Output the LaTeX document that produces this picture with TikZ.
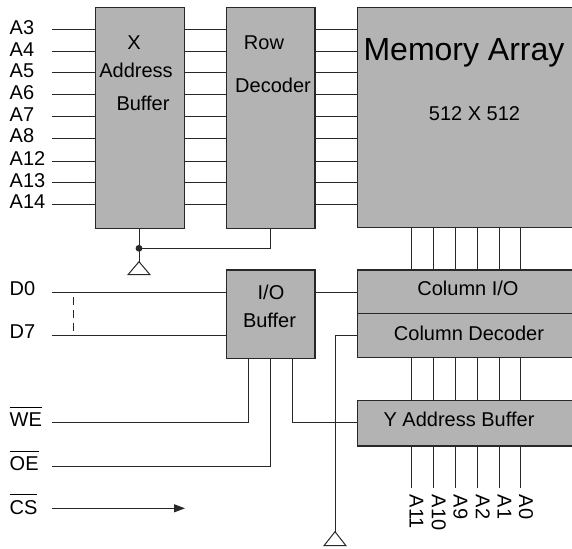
\documentclass[tikz,border=0pt]{standalone}
\usepackage{fontspec}
\setmainfont{Liberation Sans}
\usetikzlibrary{fit,arrows.meta}
\definecolor{boxgray}{RGB}{179,179,179}
\definecolor{wirecol}{RGB}{40,40,40}
\newcommand\ovtext[1]{\setbox0\hbox{#1}\rlap{\rule[19pt]{\wd0}{0.9pt}}\box0}
\begin{document}
\begin{tikzpicture}[x=1pt,y=-1pt,
  box/.style={draw=wirecol,fill=boxgray,line width=1.2pt,inner sep=0pt},
  wire/.style={draw=wirecol,line width=1pt},
  lbl/.style={inner sep=0pt,font=\fontsize{20}{24}\selectfont,text=black},
  biglbl/.style={inner sep=0pt,font=\fontsize{32}{38}\selectfont,text=black},
  gnd/.style={draw=wirecol,line width=1pt,fill=white}]
\useasboundingbox (0,0) rectangle (572,548);
\clip (0,0) rectangle (572,548);
\fill[white] (0,0) rectangle (572,548);
% boxes
\node[box,fit={(95.7,7.3) (184.3,228.3)}] (xab) {};
\node[box,fit={(226.7,7.3) (315,228.3)}] (rowdec) {};
\node[box,fit={(357.7,7.3) (585,227.7)}] (mem) {};
\node[box,fit={(226.7,270) (315,358.3)}] (iobuf) {};
\node[box,fit={(357.7,270) (585,313.3)}] (colio) {};
\node[box,fit={(357.7,313.3) (585,357.7)}] (coldec) {};
\node[box,fit={(357.7,400.7) (585,446)}] (ybuf) {};
% box texts
\node[lbl,anchor=base] (xabt1) at (134,50) {X};
\node[lbl,anchor=base] (xabt2) at (136,77.3) {Address};
\node[lbl,anchor=base] (xabt3) at (143,111) {Buffer};
\node[lbl,anchor=base] (rowt1) at (264,50) {Row};
\node[lbl,anchor=base] (rowt2) at (273,92.3) {Decoder};
\node[biglbl,anchor=base] (memt1) at (464,61) {Memory Array};
\node[lbl,anchor=base] (memt2) at (474.5,120.7) {512 X 512};
\node[lbl,anchor=base] (iot1) at (271,299) {I/O};
\node[lbl,anchor=base] (iot2) at (269.5,327.7) {Buffer};
\node[lbl,anchor=base] (colt1) at (468,295) {Column I/O};
\node[lbl,anchor=base] (colt2) at (469,340) {Column Decoder};
\node[lbl,anchor=base] (ybt) at (459,426) {Y Address Buffer};
% address inputs
\foreach \n/\y in {A3/29.7,A4/51.7,A5/72.7,A6/95,A7/116.7,A8/138.3,A12/161.3,A13/182.7,A14/204.3}{
  \node[lbl,anchor=base west] (l\n) at (9.5,\y+4.5) {\n};
  \coordinate (s\n) at (51.7,\y);
  \draw[wire] (s\n) -- (s\n -| xab.west);
  \draw[wire] (s\n -| xab.east) -- (s\n -| rowdec.west);
  \draw[wire] (s\n -| rowdec.east) -- (s\n -| mem.west);
}
% X buffer / row decoder bottom connection
\coordinate (dot) at (139,248.3);
\coordinate (rdx) at (270,248.3);
\coordinate (g1) at (139,261.7);
\draw[wire] (xab.south -| dot) -- (g1);
\draw[wire] (dot) -- (rdx) -- (rdx |- rowdec.south);
\fill[wirecol] (dot) circle (3.4);
\draw[gnd] (g1) -- ++(-11,13) -- ++(22,0) -- cycle;
% data lines
\node[lbl,anchor=base west] (lD0) at (9.5,295.7) {D0};
\node[lbl,anchor=base west] (lD7) at (9.5,338.8) {D7};
\coordinate (sD0) at (51.7,292.3);
\coordinate (sD7) at (51.7,335.7);
\draw[wire] (sD0) -- (sD0 -| iobuf.west);
\draw[wire] (sD7) -- (sD7 -| iobuf.west);
\coordinate (dsh1) at (73.3,296.7);
\coordinate (dsh2) at (73.3,331.7);
\draw[wire,dash pattern=on 8pt off 5pt] (dsh1) -- (dsh2);
\draw[wire] (sD0 -| iobuf.east) -- (sD0 -| colio.west);
% column decoder line and ground
\coordinate (g2) at (335,531.7);
\draw[wire] (sD7 -| coldec.west) -- (sD7 -| g2) -- (g2);
\draw[gnd] (g2) -- ++(-11,14) -- ++(22,0) -- cycle;
% control lines
\node[lbl,anchor=base west] (lWE) at (9.5,426.7) {\ovtext{WE}};
\node[lbl,anchor=base west] (lOE) at (9.5,470.7) {\ovtext{OE}};
\node[lbl,anchor=base west] (lCS) at (9.5,514) {\ovtext{CS}};
\coordinate (sWE) at (51.7,422.7);
\coordinate (sOE) at (51.7,466.7);
\coordinate (sCS) at (51.7,508.3);
\coordinate (cse) at (185,508.3);
\coordinate (w1) at (248.3,0);
\coordinate (w2) at (270,0);
\coordinate (w3) at (292.3,0);
\draw[wire] (sWE) -| (iobuf.south -| w1);
\draw[wire] (sOE) -| (iobuf.south -| w2);
\draw[wire] (iobuf.south -| w3) |- (ybuf.west |- sWE);
\draw[wire,-{Triangle[length=11pt,width=8pt]}] (sCS) -- (cse);
% column lines
\foreach \x/\n in {411/A11,433.3/A10,455/A9,477.3/A2,499/A1,520.7/A0}{
  \coordinate (c\n) at (\x,488.3);
  \draw[wire] (mem.south -| c\n) -- (colio.north -| c\n);
  \draw[wire] (coldec.south -| c\n) -- (ybuf.north -| c\n);
  \draw[wire] (ybuf.south -| c\n) -- (c\n);
  \node[lbl,rotate=-90,anchor=base west] (b\n) at (\x-1.5,494.5) {\n};
}
\end{tikzpicture}
\end{document}
